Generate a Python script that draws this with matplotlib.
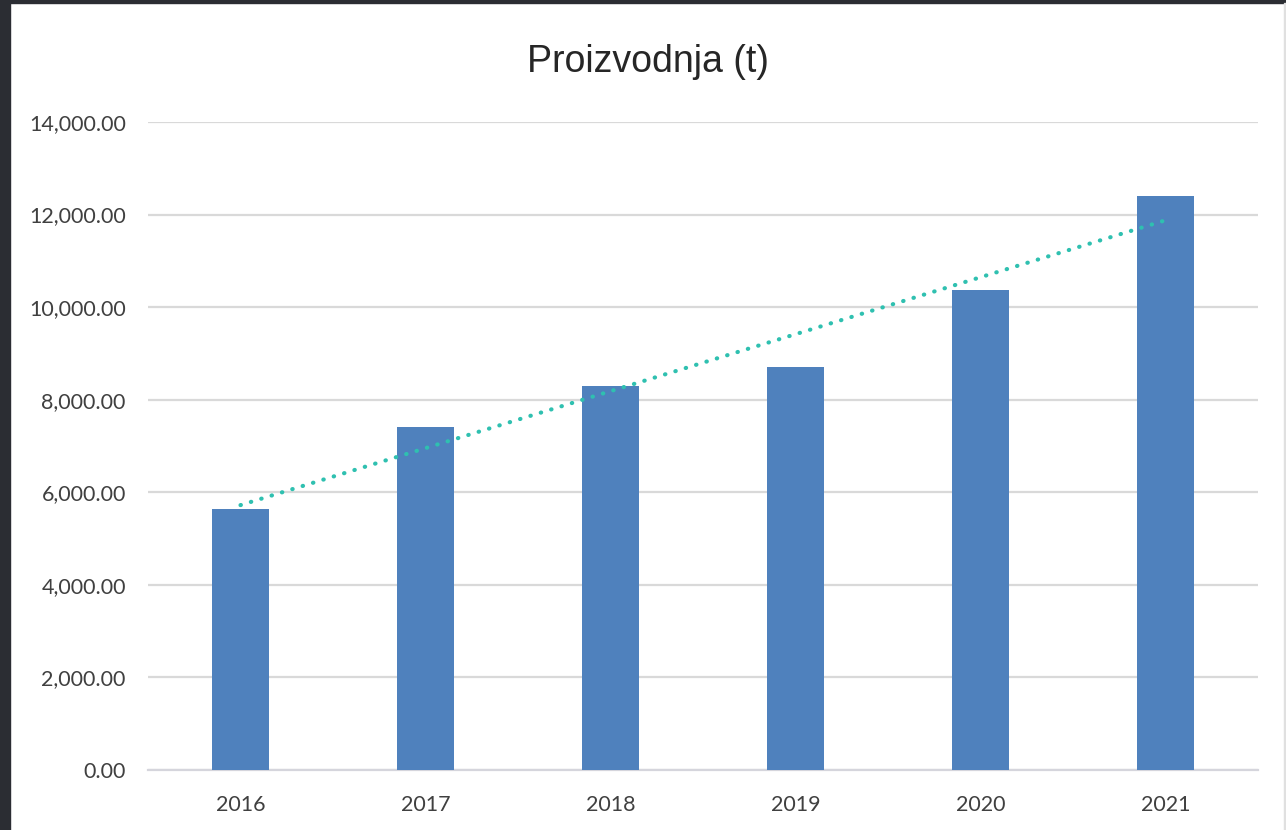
import matplotlib
matplotlib.use("Agg")
import matplotlib.pyplot as plt
import numpy as np
from matplotlib.patches import Rectangle
from matplotlib.ticker import FuncFormatter

years = ["2016", "2017", "2018", "2019", "2020", "2021"]
production = [5630, 7420, 8290, 8700, 10360, 12400]
y_ticks = [0, 2000, 4000, 6000, 8000, 10000, 12000, 14000]

BAR = "#4f81bd"
TREND = "#2fc0b0"
GRID = "#d9d9d9"
TEXT = "#404040"

fig = plt.figure(figsize=(12.86, 8.30), dpi=100)
# screenshot frame around the chart
fig.patches.append(Rectangle((0, 0), 10 / 1286, 1, transform=fig.transFigure, color="#2b2d33", zorder=0))
fig.patches.append(Rectangle((0, 1 - 3 / 830), 1, 3 / 830, transform=fig.transFigure, color="#2b2d33", zorder=0))
fig.patches.append(Rectangle((1284 / 1286, 0), 2 / 1286, 1 - 3 / 830, transform=fig.transFigure, color="#e0e0e0", zorder=0))

ax = fig.add_axes([148 / 1286, (830 - 770) / 830, (1258 - 148) / 1286, (770 - 122) / 830])

x = np.arange(len(years))
ax.bar(x, production, width=0.31, color=BAR, zorder=3)

# linear trendline
coef = np.polyfit(x, production, 1)
ax.plot(x, np.polyval(coef, x), color=TREND, linestyle=(0, (0.1, 2.5)), linewidth=3,
        dash_capstyle="round", zorder=4)

ax.set_xlim(-0.5, len(years) - 0.5)
ax.set_ylim(0, 14000)
ax.set_yticks(y_ticks)
ax.yaxis.set_major_formatter(FuncFormatter(lambda v, p: f"{v:,.2f}"))
ax.set_xticks(x)
ax.set_xticklabels(years)
ax.grid(axis="y", color=GRID, linewidth=1.6, zorder=0)
ax.tick_params(length=0, labelsize=15.5, labelcolor=TEXT)
ax.tick_params(axis="y", pad=16)
ax.tick_params(axis="x", pad=18)
for lbl in ax.get_xticklabels() + ax.get_yticklabels():
    lbl.set_family("Lato")
for s in ["top", "right", "left"]:
    ax.spines[s].set_visible(False)
ax.spines["bottom"].set_color("#d5d5dc")
ax.spines["bottom"].set_linewidth(1.6)

fig.text(648 / 1286, 1 - 62 / 830, "Proizvodnja (t)", ha="center", va="center",
         fontsize=27, color="#262626", family="Liberation Sans")

fig.savefig("out.png", dpi=100)
